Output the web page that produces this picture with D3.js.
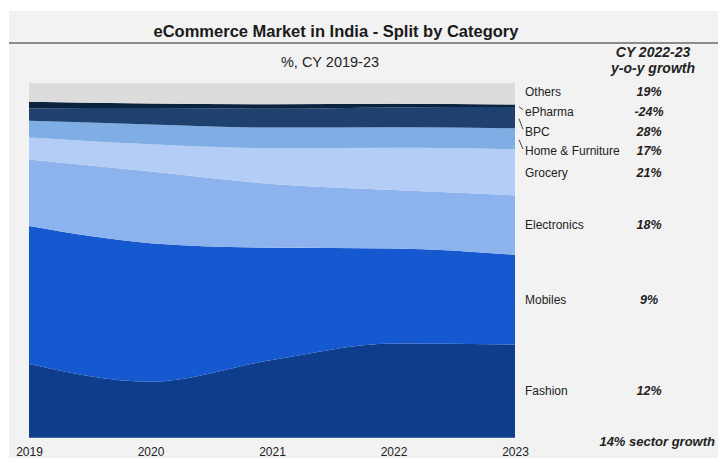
<!DOCTYPE html>
<html>
<head>
<meta charset="utf-8">
<script src="https://cdn.jsdelivr.net/npm/d3@7"></script>
<style>
  body { margin: 0; background: #ffffff; }
  text { font-family: "Liberation Sans", Arial, sans-serif; }
</style>
</head>
<body>
<div id="chart"></div>
<script>
// Chart data (share of market, %)
var years = [2019, 2020, 2021, 2022, 2023];
var categories = ["Fashion", "Mobiles", "Electronics", "Grocery", "Home & Furniture", "BPC", "ePharma", "Others"];
var fashion = [20.8, 15.8, 21.9, 26.6, 26.3];
var mobiles = [38.9, 39.1, 31.7, 26.8, 25.3];
var electronics = [18.8, 20.2, 18.0, 16.5, 16.8];
var grocery = [6.2, 7.7, 10.1, 11.9, 13.0];
var homeFurniture = [4.7, 5.6, 5.8, 5.8, 5.9];
var bpc = [3.5, 4.6, 5.3, 5.6, 6.0];
var ePharma = [1.9, 1.3, 1.3, 1.0, 0.7];
var others = [5.2, 5.7, 5.9, 5.8, 6.0];
var growth = ["12%", "9%", "18%", "21%", "17%", "28%", "-24%", "19%"];
var colors = ["#0e3d8b", "#1558d0", "#8cb3ee", "#b4cdf6", "#7eaee3", "#1f4170", "#0c2340", "#dcdcdc"];

// SVG area
var svgWidth = 718;
var svgHeight = 458;

var svg = d3.select("#chart")
  .append("svg")
  .attr("width", svgWidth)
  .attr("height", svgHeight);

// grey panel
svg.append("rect")
  .attr("x", 9)
  .attr("y", 11)
  .attr("width", svgWidth - 9)
  .attr("height", svgHeight - 11)
  .attr("fill", "#f2f2f2");

// title + rule
svg.append("text")
  .attr("x", 336)
  .attr("y", 37)
  .attr("text-anchor", "middle")
  .style("font-size", "16.5px")
  .style("font-weight", "bold")
  .attr("fill", "#1a1a1a")
  .text("eCommerce  Market in India - Split by Category");

svg.append("line")
  .attr("x1", 9).attr("x2", svgWidth)
  .attr("y1", 43).attr("y2", 43)
  .attr("stroke", "#8c8c8c")
  .attr("stroke-width", 2);

svg.append("text")
  .attr("x", 330)
  .attr("y", 67)
  .attr("text-anchor", "middle")
  .style("font-size", "14.5px")
  .attr("fill", "#222")
  .text("%, CY 2019-23");

svg.append("text")
  .attr("x", 653)
  .attr("y", 57)
  .attr("text-anchor", "middle")
  .style("font-size", "14px")
  .style("font-weight", "bold")
  .style("font-style", "italic")
  .attr("fill", "#222")
  .text("CY 2022-23");

svg.append("text")
  .attr("x", 653)
  .attr("y", 73)
  .attr("text-anchor", "middle")
  .style("font-size", "14px")
  .style("font-weight", "bold")
  .style("font-style", "italic")
  .attr("fill", "#222")
  .text("y-o-y growth");

// build rows for the stack
var series = [fashion, mobiles, electronics, grocery, homeFurniture, bpc, ePharma, others];
var rows = years.map(function(y, i) {
  var row = { year: y };
  categories.forEach(function(c, j) { row[c] = series[j][i]; });
  return row;
});

var stacked = d3.stack().keys(categories)(rows);

// scales
var xScale = d3.scaleLinear()
  .domain(d3.extent(years))
  .range([29, 515]);

var yScale = d3.scaleLinear()
  .domain([0, 100])
  .range([437.7, 83.3]);

var area = d3.area()
  .x(function(d) { return xScale(d.data.year); })
  .y0(function(d) { return yScale(d[0]); })
  .y1(function(d) { return yScale(d[1]); })
  .curve(d3.curveMonotoneX);

svg.append("g")
  .selectAll("path")
  .data(stacked)
  .enter()
  .append("path")
  .attr("d", area)
  .attr("fill", function(d, i) { return colors[i]; });

// x axis (labels only)
var bottomAxis = d3.axisBottom(xScale)
  .tickValues(years)
  .tickFormat(d3.format("d"))
  .tickSize(0)
  .tickPadding(9);

var xAxis = svg.append("g")
  .attr("transform", "translate(0, 438)")
  .call(bottomAxis);
xAxis.select(".domain").remove();
xAxis.selectAll("text")
  .style("font-size", "12px")
  .style("font-family", "Liberation Sans, Arial, sans-serif")
  .attr("fill", "#222");

// right-hand labels: middle of each band at the last year,
// pushed down from the top when they crowd together
var last = years.length - 1;
var mids = stacked.map(function(s) { return yScale((s[last][0] + s[last][1]) / 2); });
var labelY = mids.slice();
var gap = 19.7;
for (var i = categories.length - 2; i >= 0; i--) {
  labelY[i] = Math.max(mids[i], labelY[i + 1] + gap);
}
// pull the crowded group back up a touch so it sits evenly
labelY[categories.length - 1] -= 2;
for (var k = categories.length - 2; k >= 0; k--) {
  if (labelY[k] > mids[k] + 1) labelY[k] -= 2;
}

var xEnd = xScale(years[last]);

var labels = svg.append("g");
categories.forEach(function(c, i) {
  if (labelY[i] - mids[i] > 4) {
    labels.append("line")
      .attr("x1", xEnd + 4).attr("y1", mids[i] + 1)
      .attr("x2", xEnd + 8).attr("y2", labelY[i] - 2)
      .attr("stroke", "#444")
      .attr("stroke-width", 1);
  }
  labels.append("text")
    .attr("x", 525)
    .attr("y", labelY[i])
    .attr("dy", "0.35em")
    .style("font-size", "12px")
    .attr("fill", "#222")
    .text(c);
  labels.append("text")
    .attr("x", 649)
    .attr("y", labelY[i])
    .attr("dy", "0.35em")
    .attr("text-anchor", "middle")
    .style("font-size", "12.5px")
    .style("font-weight", "bold")
    .style("font-style", "italic")
    .attr("fill", "#222")
    .text(growth[i]);
});

svg.append("text")
  .attr("x", 715)
  .attr("y", 446)
  .attr("text-anchor", "end")
  .style("font-size", "13px")
  .style("font-weight", "bold")
  .style("font-style", "italic")
  .attr("fill", "#222")
  .text("14% sector growth");
</script>
</body>
</html>
